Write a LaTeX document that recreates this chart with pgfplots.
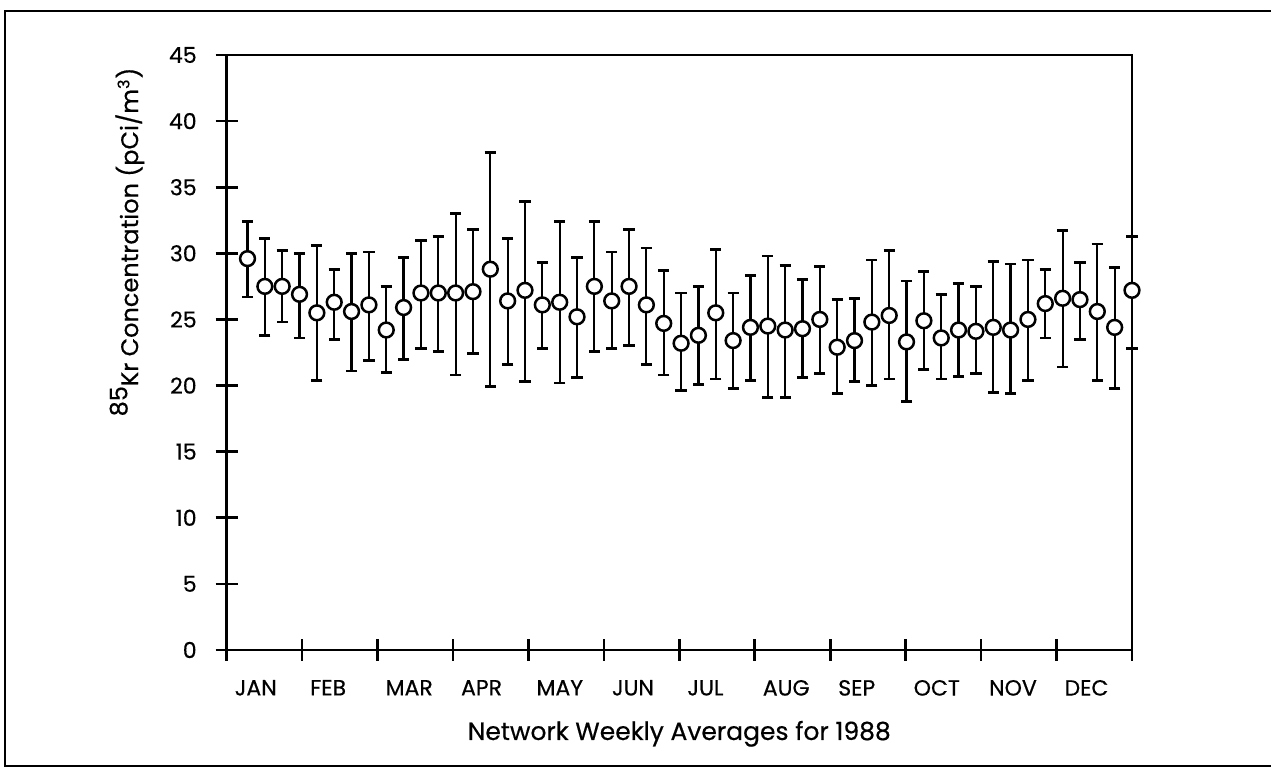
\documentclass[border=0pt]{standalone}
\usepackage{pgfplots}
\pgfplotsset{compat=1.18}
\usepackage{pgfplotstable}
\usepackage{fontspec}
\setmainfont{Poppins}[BoldFont=Poppins, BoldFeatures={FakeBold=0.5}]

\pgfplotstableread{
x y lo hi
1 29.6 26.7 32.4
2 27.5 23.8 31.1
3 27.5 24.8 30.2
4 26.9 23.6 30.0
5 25.5 20.4 30.6
6 26.3 23.5 28.8
7 25.6 21.1 30.0
8 26.1 21.9 30.1
9 24.2 21.0 27.5
10 25.9 22.0 29.7
11 27.0 22.8 31.0
12 27.0 22.6 31.3
13 27.0 20.8 33.0
14 27.1 22.4 31.8
15 28.8 19.9 37.6
16 26.4 21.6 31.1
17 27.2 20.3 33.9
18 26.1 22.8 29.3
19 26.3 20.2 32.4
20 25.2 20.6 29.7
21 27.5 22.6 32.4
22 26.4 22.8 30.1
23 27.5 23.0 31.8
24 26.1 21.6 30.4
25 24.7 20.8 28.7
26 23.2 19.6 27.0
27 23.8 20.1 27.5
28 25.5 20.5 30.3
29 23.4 19.8 27.0
30 24.4 20.4 28.3
31 24.5 19.1 29.8
32 24.2 19.1 29.1
33 24.3 20.6 28.0
34 25.0 20.9 29.0
35 22.9 19.4 26.5
36 23.4 20.3 26.6
37 24.8 20.0 29.5
38 25.3 20.5 30.2
39 23.3 18.8 27.9
40 24.9 21.2 28.6
41 23.6 20.5 26.9
42 24.2 20.7 27.7
43 24.1 20.9 27.5
44 24.4 19.5 29.4
45 24.2 19.4 29.2
46 25.0 20.4 29.5
47 26.2 23.6 28.8
48 26.6 21.4 31.7
49 26.5 23.5 29.3
50 25.6 20.4 30.7
51 24.4 19.8 28.9
52 27.2 22.8 31.3
}\kr

\begin{document}
\begin{tikzpicture}
\useasboundingbox (-113.35pt,-59.5pt) rectangle (522.15pt,325pt);
\draw[line width=1.4pt] (526pt,319.5pt) -- (-110.85pt,319.5pt) -- (-110.85pt,-58pt) -- (526pt,-58pt);
\begin{axis}[
  at={(0pt,0pt)}, anchor=south west,
  scale only axis, width=452.65pt, height=297.5pt,
  xmin=-0.2, xmax=52, ymin=0, ymax=45,
  clip=false,
  axis line style={line width=1.3pt},
  xtick pos=bottom, ytick pos=left,
  xtick={-0.2,4.15,8.5,12.85,17.2,21.55,25.9,30.25,34.6,38.95,43.3,47.65,52},
  xticklabels={JAN,FEB,MAR,APR,MAY,JUN,JUL,AUG,SEP,OCT,NOV,DEC,{}},
  ytick={0,5,...,45},
  tick align=center,
  major tick length=11pt,
  every tick/.style={line width=1.3pt, black},
  /pgf/number format/assume math mode=true,
  tick label style={font=\fontsize{11}{13}\selectfont\bfseries},
  xticklabel style={anchor=north west, yshift=-6pt, xshift=0.5pt},
  yticklabel style={anchor=east, xshift=-6pt},
]
\addplot[only marks, mark=*, mark size=3.7pt,
  mark options={fill=white, draw=black, line width=1.25pt},
  error bars/.cd, y dir=both, y explicit,
  error bar style={line width=1.1pt, black},
  error mark options={line width=1.4pt, mark size=2.8pt, black, rotate=90}]
  table[x=x, y=y,
    y error plus expr=\thisrow{hi}-\thisrow{y},
    y error minus expr=\thisrow{y}-\thisrow{lo}] {\kr};
\end{axis}
\node[rotate=90, font=\fontsize{12}{14}\selectfont\bfseries] at (-49.85pt,204pt)
  {\raisebox{0.45em}{85}Kr Concentration (pCi/m\textsuperscript{3})};
\node[anchor=base, font=\fontsize{12.5}{15}\selectfont\bfseries] at (226.3pt,-45pt)
  {Network Weekly Averages for 1988};
\end{tikzpicture}
\end{document}
